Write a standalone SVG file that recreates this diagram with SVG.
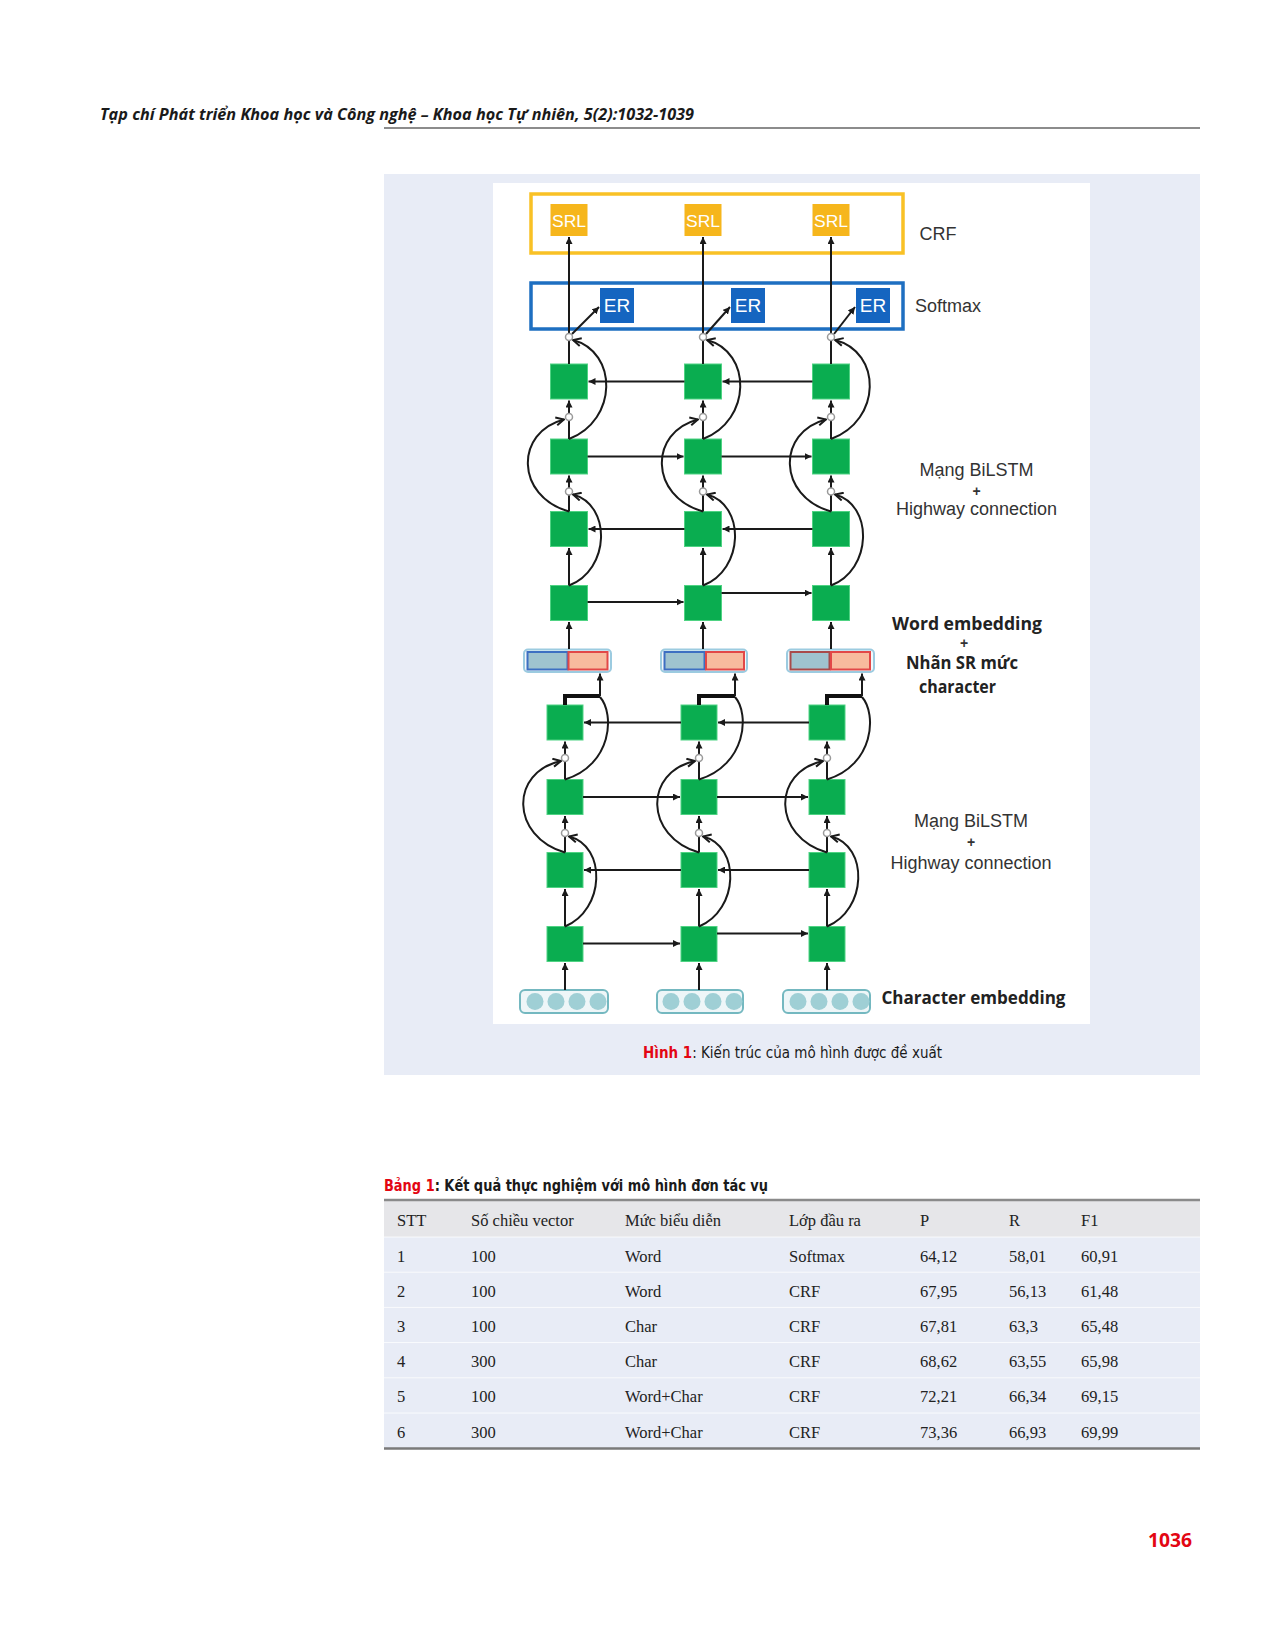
<svg xmlns="http://www.w3.org/2000/svg" width="1276" height="1649" viewBox="0 0 1276 1649">
<defs>
<style>
.ln{fill:none;stroke:#1a1a1a;stroke-width:2}
.ar{marker-end:url(#ah)}
.cva{marker-end:url(#ch)}
.g{fill:#0aad50;stroke:#4fd383;stroke-width:1}
.gate{fill:#fff;stroke:#9a9a9a;stroke-width:1.5}
.srl{fill:#f6b61c}
.er{fill:#1565c0}
.wt{font-family:"Liberation Sans",Arial,sans-serif;fill:#fff;text-anchor:middle}
.lbl{font-family:"Liberation Sans",Arial,sans-serif;font-size:18px;fill:#333;text-anchor:middle}
.pl{font-family:"Liberation Sans",Arial,sans-serif;font-size:14px;font-weight:700;fill:#333;text-anchor:middle}
.lblb{font-family:"Open Sans","Lato",sans-serif;font-weight:700;font-size:17px;fill:#222;text-anchor:middle}
.tb{font-family:"Liberation Serif","Times New Roman",serif;font-size:16.5px;fill:#222}
.eo{fill:#f3f8fb;stroke:#9ccbe0;stroke-width:2}
.el{fill:#9fc3cf;stroke:#3d6fc2;stroke-width:2}
.er2{fill:#f8bb9e;stroke:#e24848;stroke-width:2}
.co{fill:#eef6f8;stroke:#74b8c0;stroke-width:2}
.cc{fill:#9fcfd5}
.red{fill:#e30613}
</style>
<marker id="ah" viewBox="0 0 10 10" refX="10" refY="5" markerWidth="7" markerHeight="7" markerUnits="userSpaceOnUse" orient="auto"><path d="M0,0 L10,5 L0,10 z" fill="#1a1a1a"/></marker>
<marker id="ch" viewBox="0 0 10 10" refX="9" refY="5" markerWidth="10" markerHeight="10" markerUnits="userSpaceOnUse" orient="auto"><path d="M1,1 L9,5 L1,9" fill="none" stroke="#1a1a1a" stroke-width="2"/></marker>
</defs>

<rect x="0" y="0" width="1276" height="1649" fill="#ffffff"/>

<g id="page-header">
<text x="100" y="120" font-family="'Open Sans','Noto Sans',sans-serif" font-size="16.5" font-weight="700" font-style="italic" fill="#1a1a1a" textLength="594" lengthAdjust="spacingAndGlyphs">Tạp chí Phát triển Khoa học và Công nghệ – Khoa học Tự nhiên, 5(2):1032-1039</text>
<line x1="384" y1="128" x2="1200" y2="128" stroke="#666" stroke-width="1.5"/>
</g>

<g id="figure-panel">
<rect x="384" y="174" width="816" height="901" fill="#e8ecf6"/>
<rect x="493" y="183" width="597" height="841" fill="#ffffff"/>
</g>

<g id="crf-layer">
<rect x="531" y="194" width="372" height="59" fill="none" stroke="#f9c125" stroke-width="3.5"/>
<text class="lbl" x="938" y="240">CRF</text>
</g>
<g id="softmax-layer">
<rect x="531" y="283" width="372" height="46" fill="none" stroke="#1e6fc1" stroke-width="3.5"/>
<text class="lbl" x="948" y="312">Softmax</text>
</g>

<g id="srl1"><rect class="srl" x="550.5" y="204" width="37" height="32"/><text class="wt" x="569" y="227" font-size="17" textLength="34" lengthAdjust="spacingAndGlyphs">SRL</text></g>
<g id="srl2"><rect class="srl" x="684.5" y="204" width="37" height="32"/><text class="wt" x="703" y="227" font-size="17" textLength="34" lengthAdjust="spacingAndGlyphs">SRL</text></g>
<g id="srl3"><rect class="srl" x="812.5" y="204" width="37" height="32"/><text class="wt" x="831" y="227" font-size="17" textLength="34" lengthAdjust="spacingAndGlyphs">SRL</text></g>

<g id="er1"><rect class="er" x="600" y="288" width="34" height="35"/><text class="wt" x="617" y="312" font-size="19">ER</text></g>
<g id="er2"><rect class="er" x="731" y="288" width="34" height="35"/><text class="wt" x="748" y="312" font-size="19">ER</text></g>
<g id="er3"><rect class="er" x="856" y="288" width="34" height="35"/><text class="wt" x="873" y="312" font-size="19">ER</text></g>

<g id="upper-bilstm">
<g id="uA1"><rect class="g" x="550.5" y="364" width="37" height="35"/></g>
<g id="uA2"><rect class="g" x="684.5" y="364" width="37" height="35"/></g>
<g id="uA3"><rect class="g" x="812.5" y="364" width="37" height="35"/></g>
<g id="uB1"><rect class="g" x="550.5" y="439" width="37" height="35"/></g>
<g id="uB2"><rect class="g" x="684.5" y="439" width="37" height="35"/></g>
<g id="uB3"><rect class="g" x="812.5" y="439" width="37" height="35"/></g>
<g id="uC1"><rect class="g" x="550.5" y="511.5" width="37" height="35"/></g>
<g id="uC2"><rect class="g" x="684.5" y="511.5" width="37" height="35"/></g>
<g id="uC3"><rect class="g" x="812.5" y="511.5" width="37" height="35"/></g>
<g id="uD1"><rect class="g" x="550.5" y="585.5" width="37" height="35"/></g>
<g id="uD2"><rect class="g" x="684.5" y="585.5" width="37" height="35"/></g>
<g id="uD3"><rect class="g" x="812.5" y="585.5" width="37" height="35"/></g>
</g>

<g id="word-embeddings">
<g id="we1"><rect class="eo" x="524" y="649.5" width="87" height="22.5" rx="4"/><rect class="el" x="527.5" y="652" width="40" height="17.5"/><rect class="er2" x="568.5" y="652" width="39" height="17.5"/></g>
<g id="we2"><rect class="eo" x="661" y="649.5" width="86" height="22.5" rx="4"/><rect class="el" x="664.5" y="652" width="40" height="17.5"/><rect class="er2" x="706" y="652" width="38" height="17.5"/></g>
<g id="we3"><rect class="eo" x="787" y="649.5" width="87" height="22.5" rx="4"/><rect class="el" x="790.5" y="652" width="39" height="17.5" style="stroke:#a94a4a"/><rect class="er2" x="831" y="652" width="39" height="17.5"/></g>
</g>

<g id="lower-bilstm">
<g id="lE1"><rect class="g" x="547" y="705" width="36" height="35"/></g>
<g id="lE2"><rect class="g" x="681" y="705" width="36" height="35"/></g>
<g id="lE3"><rect class="g" x="809" y="705" width="36" height="35"/></g>
<g id="lF1"><rect class="g" x="547" y="779.5" width="36" height="35"/></g>
<g id="lF2"><rect class="g" x="681" y="779.5" width="36" height="35"/></g>
<g id="lF3"><rect class="g" x="809" y="779.5" width="36" height="35"/></g>
<g id="lG1"><rect class="g" x="547" y="852.5" width="36" height="35"/></g>
<g id="lG2"><rect class="g" x="681" y="852.5" width="36" height="35"/></g>
<g id="lG3"><rect class="g" x="809" y="852.5" width="36" height="35"/></g>
<g id="lH1"><rect class="g" x="547" y="926.5" width="36" height="35"/></g>
<g id="lH2"><rect class="g" x="681" y="926.5" width="36" height="35"/></g>
<g id="lH3"><rect class="g" x="809" y="926.5" width="36" height="35"/></g>
</g>

<g id="char-embeddings">
<g id="ce1"><rect class="co" x="520" y="990" width="88" height="23" rx="5"/><circle class="cc" cx="535" cy="1001.5" r="8.5"/><circle class="cc" cx="556" cy="1001.5" r="8.5"/><circle class="cc" cx="577" cy="1001.5" r="8.5"/><circle class="cc" cx="598" cy="1001.5" r="8.5"/></g>
<g id="ce2"><rect class="co" x="657" y="990" width="86" height="23" rx="5"/><circle class="cc" cx="671" cy="1001.5" r="8.5"/><circle class="cc" cx="692" cy="1001.5" r="8.5"/><circle class="cc" cx="713" cy="1001.5" r="8.5"/><circle class="cc" cx="734" cy="1001.5" r="8.5"/></g>
<g id="ce3"><rect class="co" x="783" y="990" width="87" height="23" rx="5"/><circle class="cc" cx="798" cy="1001.5" r="8.5"/><circle class="cc" cx="819" cy="1001.5" r="8.5"/><circle class="cc" cx="840" cy="1001.5" r="8.5"/><circle class="cc" cx="861" cy="1001.5" r="8.5"/></g>
</g>

<g id="connectors">
<path class="ln ar" d="M569,649 L569,622"/>
<path class="ln ar" d="M569,585.5 L569,548"/>
<path class="ln" d="M569,511.5 L569,495"/>
<path class="ln ar" d="M569,488 L569,475.5"/>
<path class="ln" d="M569,439 L569,420.5"/>
<path class="ln ar" d="M569,413.5 L569,400.5"/>
<path class="ln" d="M569,364 L569,340.5"/>
<path class="ln ar" d="M569,333.5 L569,237"/>
<path class="ln ar" d="M572,334 L599,307"/>
<path class="ln cva" d="M569,585.5 C610,570 612,505 573,494.5"/>
<path class="ln cva" d="M569,511.5 C515,496 515,432 564,419.5"/>
<path class="ln cva" d="M569,439 C618,420 618,352 573,340"/>
<path class="ln ar" d="M703,649 L703,622"/>
<path class="ln ar" d="M703,585.5 L703,548"/>
<path class="ln" d="M703,511.5 L703,495"/>
<path class="ln ar" d="M703,488 L703,475.5"/>
<path class="ln" d="M703,439 L703,420.5"/>
<path class="ln ar" d="M703,413.5 L703,400.5"/>
<path class="ln" d="M703,364 L703,340.5"/>
<path class="ln ar" d="M703,333.5 L703,237"/>
<path class="ln ar" d="M706,334 L730,307"/>
<path class="ln cva" d="M703,585.5 C744,570 746,505 707,494.5"/>
<path class="ln cva" d="M703,511.5 C649,496 649,432 698,419.5"/>
<path class="ln cva" d="M703,439 C752,420 752,352 707,340"/>
<path class="ln ar" d="M831,649 L831,622"/>
<path class="ln ar" d="M831,585.5 L831,548"/>
<path class="ln" d="M831,511.5 L831,495"/>
<path class="ln ar" d="M831,488 L831,475.5"/>
<path class="ln" d="M831,439 L831,420.5"/>
<path class="ln ar" d="M831,413.5 L831,400.5"/>
<path class="ln" d="M831,364 L831,340.5"/>
<path class="ln ar" d="M831,333.5 L831,237"/>
<path class="ln ar" d="M834,334 L855,307"/>
<path class="ln cva" d="M831,585.5 C872,570 874,505 835,494.5"/>
<path class="ln cva" d="M831,511.5 C777,496 777,432 826,419.5"/>
<path class="ln cva" d="M831,439 C882,420 882,352 835,340"/>
<path class="ln ar" d="M812.5,381.5 L722.5,381.5"/>
<path class="ln ar" d="M684.5,381.5 L588.5,381.5"/>
<path class="ln ar" d="M587.5,456.5 L683.5,456.5"/>
<path class="ln ar" d="M721.5,456.5 L811.5,456.5"/>
<path class="ln ar" d="M812.5,529 L722.5,529"/>
<path class="ln ar" d="M684.5,529 L588.5,529"/>
<path class="ln ar" d="M587.5,602 L683.5,602"/>
<path class="ln ar" d="M721.5,593 L811.5,593"/>
<path class="ln ar" d="M565,990 L565,963"/>
<path class="ln ar" d="M565,926.5 L565,889"/>
<path class="ln" d="M565,852.5 L565,836.5"/>
<path class="ln ar" d="M565,829.5 L565,816"/>
<path class="ln" d="M565,779.5 L565,761.5"/>
<path class="ln ar" d="M565,754.5 L565,741.5"/>
<path fill="none" stroke="#111" stroke-width="4" d="M565,705 L565,696 L600,696"/>
<path class="ln ar" d="M600,696 L600,673.5"/>
<path class="ln cva" d="M565,926.5 C605,910 607,846 569,836.5"/>
<path class="ln cva" d="M565,852.5 C510,836 510,772 561,761"/>
<path class="ln" d="M565,779.5 C612,765 615,714 600,697"/>
<path class="ln ar" d="M699,990 L699,963"/>
<path class="ln ar" d="M699,926.5 L699,889"/>
<path class="ln" d="M699,852.5 L699,836.5"/>
<path class="ln ar" d="M699,829.5 L699,816"/>
<path class="ln" d="M699,779.5 L699,761.5"/>
<path class="ln ar" d="M699,754.5 L699,741.5"/>
<path fill="none" stroke="#111" stroke-width="4" d="M699,705 L699,696 L735,696"/>
<path class="ln ar" d="M735,696 L735,673.5"/>
<path class="ln cva" d="M699,926.5 C739,910 741,846 703,836.5"/>
<path class="ln cva" d="M699,852.5 C644,836 644,772 695,761"/>
<path class="ln" d="M699,779.5 C746,765 750,714 735,697"/>
<path class="ln ar" d="M827,990 L827,963"/>
<path class="ln ar" d="M827,926.5 L827,889"/>
<path class="ln" d="M827,852.5 L827,836.5"/>
<path class="ln ar" d="M827,829.5 L827,816"/>
<path class="ln" d="M827,779.5 L827,761.5"/>
<path class="ln ar" d="M827,754.5 L827,741.5"/>
<path fill="none" stroke="#111" stroke-width="4" d="M827,705 L827,696 L862,696"/>
<path class="ln ar" d="M862,696 L862,673.5"/>
<path class="ln cva" d="M827,926.5 C867,910 869,846 831,836.5"/>
<path class="ln cva" d="M827,852.5 C772,836 772,772 823,761"/>
<path class="ln" d="M827,779.5 C874,765 877,714 862,697"/>
<path class="ln ar" d="M809,722.5 L718,722.5"/>
<path class="ln ar" d="M681,722.5 L584,722.5"/>
<path class="ln ar" d="M583,797 L680,797"/>
<path class="ln ar" d="M717,797 L808,797"/>
<path class="ln ar" d="M809,870 L718,870"/>
<path class="ln ar" d="M681,870 L584,870"/>
<path class="ln ar" d="M583,943.5 L680,943.5"/>
<path class="ln ar" d="M717,933.5 L808,933.5"/>
</g>

<g id="gates">
<circle class="gate" cx="569" cy="491.5" r="3.5"/><circle class="gate" cx="569" cy="417" r="3.5"/><circle class="gate" cx="569" cy="337" r="3.5"/>
<circle class="gate" cx="703" cy="491.5" r="3.5"/><circle class="gate" cx="703" cy="417" r="3.5"/><circle class="gate" cx="703" cy="337" r="3.5"/>
<circle class="gate" cx="831" cy="491.5" r="3.5"/><circle class="gate" cx="831" cy="417" r="3.5"/><circle class="gate" cx="831" cy="337" r="3.5"/>
<circle class="gate" cx="565" cy="833" r="3.5"/><circle class="gate" cx="565" cy="758" r="3.5"/>
<circle class="gate" cx="699" cy="833" r="3.5"/><circle class="gate" cx="699" cy="758" r="3.5"/>
<circle class="gate" cx="827" cy="833" r="3.5"/><circle class="gate" cx="827" cy="758" r="3.5"/>
</g>

<g id="labels">
<text class="lbl" x="976.5" y="476">Mạng BiLSTM</text>
<text class="pl" x="976.5" y="496">+</text>
<text class="lbl" x="976.5" y="515">Highway connection</text>
<text class="lblb" x="967" y="630" textLength="150" lengthAdjust="spacingAndGlyphs">Word embedding</text>
<text class="pl" x="964" y="648" fill="#222">+</text>
<text class="lblb" x="962" y="669" textLength="112" lengthAdjust="spacingAndGlyphs">Nhãn SR mức</text>
<text class="lblb" x="957.5" y="693" textLength="77" lengthAdjust="spacingAndGlyphs">character</text>
<text class="lbl" x="971" y="827">Mạng BiLSTM</text>
<text class="pl" x="971" y="847">+</text>
<text class="lbl" x="971" y="869">Highway connection</text>
<text class="lblb" x="973.5" y="1004" textLength="184" lengthAdjust="spacingAndGlyphs">Character embedding</text>
</g>

<g id="caption">
<text x="643" y="1058" font-family="'Liberation Sans Narrow','DejaVu Sans Condensed','Noto Sans',sans-serif" font-size="16.5" fill="#1a1a1a" textLength="299" lengthAdjust="spacingAndGlyphs"><tspan class="red" font-weight="700">Hình 1</tspan>: Kiến trúc của mô hình được đề xuất</text>
</g>

<g id="table">
<text x="384" y="1191" font-family="'Liberation Sans Narrow','DejaVu Sans Condensed','Open Sans',sans-serif" font-size="16" font-weight="700" fill="#1a1a1a" textLength="384" lengthAdjust="spacingAndGlyphs"><tspan class="red">Bảng 1</tspan>: Kết quả thực nghiệm với mô hình đơn tác vụ</text>
<rect x="384" y="1201" width="816" height="36" fill="#e6e6e9"/>
<rect x="384" y="1237" width="816" height="211" fill="#e8ecf6"/>
<g stroke="#ffffff" stroke-width="1" opacity="0.8">
<line x1="384" y1="1237" x2="1200" y2="1237"/>
<line x1="384" y1="1272.2" x2="1200" y2="1272.2"/>
<line x1="384" y1="1307.4" x2="1200" y2="1307.4"/>
<line x1="384" y1="1342.6" x2="1200" y2="1342.6"/>
<line x1="384" y1="1377.8" x2="1200" y2="1377.8"/>
<line x1="384" y1="1413" x2="1200" y2="1413"/>
</g>
<line x1="384" y1="1200" x2="1200" y2="1200" stroke="#8a8a8a" stroke-width="2.5"/>
<line x1="384" y1="1448.5" x2="1200" y2="1448.5" stroke="#7a7a7a" stroke-width="2.5"/>
<g class="tb">
<text x="397" y="1226">STT</text><text x="471" y="1226">Số chiều vector</text><text x="625" y="1226">Mức biểu diễn</text><text x="789" y="1226">Lớp đầu ra</text><text x="920" y="1226">P</text><text x="1009" y="1226">R</text><text x="1081" y="1226">F1</text>
<text x="397" y="1261.5">1</text><text x="471" y="1261.5">100</text><text x="625" y="1261.5">Word</text><text x="789" y="1261.5">Softmax</text><text x="920" y="1261.5">64,12</text><text x="1009" y="1261.5">58,01</text><text x="1081" y="1261.5">60,91</text>
<text x="397" y="1296.7">2</text><text x="471" y="1296.7">100</text><text x="625" y="1296.7">Word</text><text x="789" y="1296.7">CRF</text><text x="920" y="1296.7">67,95</text><text x="1009" y="1296.7">56,13</text><text x="1081" y="1296.7">61,48</text>
<text x="397" y="1331.9">3</text><text x="471" y="1331.9">100</text><text x="625" y="1331.9">Char</text><text x="789" y="1331.9">CRF</text><text x="920" y="1331.9">67,81</text><text x="1009" y="1331.9">63,3</text><text x="1081" y="1331.9">65,48</text>
<text x="397" y="1367.1">4</text><text x="471" y="1367.1">300</text><text x="625" y="1367.1">Char</text><text x="789" y="1367.1">CRF</text><text x="920" y="1367.1">68,62</text><text x="1009" y="1367.1">63,55</text><text x="1081" y="1367.1">65,98</text>
<text x="397" y="1402.3">5</text><text x="471" y="1402.3">100</text><text x="625" y="1402.3">Word+Char</text><text x="789" y="1402.3">CRF</text><text x="920" y="1402.3">72,21</text><text x="1009" y="1402.3">66,34</text><text x="1081" y="1402.3">69,15</text>
<text x="397" y="1437.5">6</text><text x="471" y="1437.5">300</text><text x="625" y="1437.5">Word+Char</text><text x="789" y="1437.5">CRF</text><text x="920" y="1437.5">73,36</text><text x="1009" y="1437.5">66,93</text><text x="1081" y="1437.5">69,99</text>
</g>
</g>

<g id="page-number">
<text x="1148" y="1547" font-family="'Open Sans','Noto Sans',sans-serif" font-size="19" font-weight="700" fill="#e30613" textLength="44" lengthAdjust="spacingAndGlyphs">1036</text>
</g>
</svg>
